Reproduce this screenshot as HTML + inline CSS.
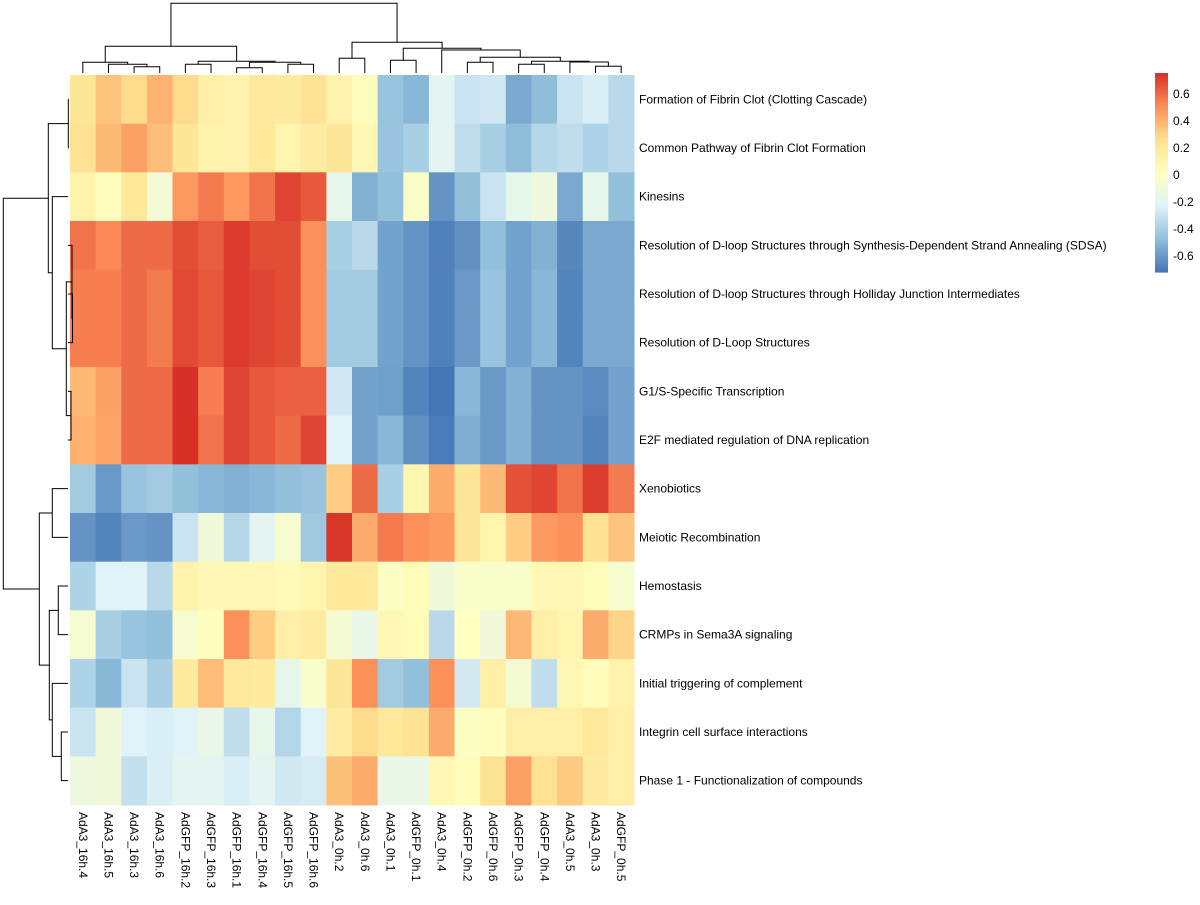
<!DOCTYPE html>
<html><head><meta charset="utf-8"><style>
body{margin:0;background:#fff;font-family:"Liberation Sans",Arial,sans-serif}
svg text{font-family:"Liberation Sans",Arial,sans-serif;font-size:12px;fill:#000}
</style></head><body>
<svg id="chart" width="1200" height="900" xmlns="http://www.w3.org/2000/svg"></svg>
<script>
const rowLabels=["Formation of Fibrin Clot (Clotting Cascade)","Common Pathway of Fibrin Clot Formation","Kinesins","Resolution of D-loop Structures through Synthesis-Dependent Strand Annealing (SDSA)","Resolution of D-loop Structures through Holliday Junction Intermediates","Resolution of D-Loop Structures","G1/S-Specific Transcription","E2F mediated regulation of DNA replication","Xenobiotics","Meiotic Recombination","Hemostasis","CRMPs in Sema3A signaling","Initial triggering of complement","Integrin cell surface interactions","Phase 1 - Functionalization of compounds"];
const colLabels=["AdA3_16h.4","AdA3_16h.5","AdA3_16h.3","AdA3_16h.6","AdGFP_16h.2","AdGFP_16h.3","AdGFP_16h.1","AdGFP_16h.4","AdGFP_16h.5","AdGFP_16h.6","AdA3_0h.2","AdA3_0h.6","AdA3_0h.1","AdGFP_0h.1","AdA3_0h.4","AdGFP_0h.2","AdGFP_0h.6","AdGFP_0h.3","AdGFP_0h.4","AdA3_0h.5","AdA3_0h.3","AdGFP_0h.5"];
const r0=[0.22,0.35,0.28,0.4,0.28,0.15,0.12,0.2,0.18,0.25,0.12,0.03,-0.45,-0.5,-0.2,-0.3,-0.28,-0.55,-0.48,-0.3,-0.25,-0.35];
const r1=[0.25,0.38,0.45,0.37,0.22,0.12,0.12,0.2,0.1,0.17,0.22,0.07,-0.45,-0.4,-0.2,-0.33,-0.4,-0.48,-0.36,-0.33,-0.38,-0.35];
const r2=[0.12,0.03,0.2,-0.08,0.48,0.56,0.48,0.58,0.7,0.65,-0.17,-0.52,-0.47,-0.02,-0.62,-0.47,-0.3,-0.17,-0.12,-0.55,-0.17,-0.47];
const r3=[0.58,0.52,0.6,0.6,0.68,0.64,0.73,0.68,0.68,0.5,-0.4,-0.35,-0.57,-0.62,-0.68,-0.63,-0.47,-0.57,-0.52,-0.66,-0.55,-0.55];
const r4=[0.55,0.55,0.6,0.56,0.69,0.65,0.73,0.7,0.68,0.5,-0.42,-0.42,-0.57,-0.62,-0.68,-0.6,-0.45,-0.57,-0.5,-0.67,-0.55,-0.55];
const r5=[0.55,0.55,0.6,0.56,0.69,0.65,0.73,0.7,0.68,0.5,-0.42,-0.42,-0.57,-0.62,-0.68,-0.6,-0.45,-0.57,-0.5,-0.67,-0.55,-0.55];
const r6=[0.38,0.45,0.6,0.6,0.76,0.55,0.7,0.65,0.63,0.63,-0.28,-0.57,-0.58,-0.67,-0.72,-0.5,-0.6,-0.52,-0.62,-0.62,-0.65,-0.57];
const r7=[0.4,0.44,0.6,0.6,0.76,0.58,0.7,0.65,0.6,0.7,-0.22,-0.57,-0.5,-0.63,-0.7,-0.53,-0.6,-0.52,-0.62,-0.62,-0.67,-0.57];
const r8=[-0.42,-0.6,-0.45,-0.42,-0.47,-0.5,-0.52,-0.5,-0.47,-0.45,0.32,0.6,-0.4,0.1,0.42,0.22,0.38,0.67,0.7,0.58,0.72,0.56];
const r9=[-0.62,-0.67,-0.6,-0.62,-0.3,-0.1,-0.36,-0.2,-0.05,-0.43,0.74,0.42,0.56,0.5,0.47,0.22,0.1,0.32,0.47,0.5,0.25,0.35];
const r10=[-0.38,-0.23,-0.23,-0.35,0.12,0.07,0.07,0.08,0.06,0.1,0.2,0.2,0,0.05,-0.1,-0.03,-0.03,-0.03,0.07,0.08,0.05,-0.05];
const r11=[-0.05,-0.4,-0.45,-0.47,-0.05,0.03,0.5,0.32,0.15,0.17,-0.07,-0.15,0.08,0.05,-0.35,0.02,-0.1,0.38,0.15,0.1,0.42,0.3];
const r12=[-0.38,-0.5,-0.3,-0.4,0.18,0.37,0.2,0.18,-0.17,-0.03,0.22,0.5,-0.42,-0.47,0.5,-0.27,0.15,-0.07,-0.33,0.08,0.04,0.12];
const r13=[-0.3,-0.1,-0.22,-0.25,-0.22,-0.15,-0.33,-0.17,-0.37,-0.22,0.17,0.28,0.2,0.25,0.42,0.0,0.03,0.15,0.15,0.15,0.2,0.15];
const r14=[-0.12,-0.1,-0.32,-0.25,-0.2,-0.2,-0.25,-0.2,-0.28,-0.26,0.36,0.42,-0.15,-0.15,0.07,0.04,0.25,0.45,0.25,0.33,0.18,0.15];
const values=[r0,r1,r2,r3,r4,r5,r6,r7,r8,r9,r10,r11,r12,r13,r14];
const legendTicks=[0.6,0.4,0.2,0,-0.2,-0.4,-0.6];
const vMin=-0.72, vMax=0.756;

const svg=document.getElementById('chart');
const NS='http://www.w3.org/2000/svg';
const X0=70,X1=634,Y0=75,Y1=805;
const cw=(X1-X0)/colLabels.length, rh=(Y1-Y0)/rowLabels.length;
const pal=[[69,117,180],[145,191,219],[224,243,248],[255,255,191],[254,224,144],[252,141,89],[215,48,39]];
function color(v){let t=(v-vMin)/(vMax-vMin);t=Math.max(0,Math.min(1,t))*(pal.length-1);const i=Math.min(Math.floor(t),pal.length-2),f=t-i;const c=pal[i].map((a,k)=>Math.round(a+(pal[i+1][k]-a)*f));return `rgb(${c})`;}
function el(tag,attrs,parent){const e=document.createElementNS(NS,tag);for(const k in attrs)e.setAttribute(k,attrs[k]);(parent||svg).appendChild(e);return e;}
const xC=i=>X0+cw*(i+0.5), yC=j=>Y0+rh*(j+0.5);

const cells=el('g',{});


values.forEach((row,j)=>row.forEach((v,i)=>{
  const r=el('rect',{x:X0+cw*i,y:Y0+rh*j,width:cw+0.5,height:rh+0.5,fill:color(v)},cells);
  
  
}));
rowLabels.forEach((t,j)=>{
  const e=el('text',{x:639,y:yC(j)+4});e.textContent=t;
  
  
});
colLabels.forEach((t,i)=>{
  const e=el('text',{x:0,y:0,transform:`translate(${xC(i)-4},812) rotate(90)`});e.textContent=t;
  
  
});
const colTree=['n',['n',['n',0,['n',1,['n',2,3,66.7],64.3],62.3],['n',['n',4,5,64.3],['n',['n',6,7,67.7],['n',8,9,64.3],62.3],61.3],46.3],
 ['n',['n',10,11,58.3],['n',['n',12,13,60.3],['n',14,['n',['n',15,16,62.3],['n',['n',17,18,64.3],['n',19,['n',20,21,66.3],62],61.3],57.3],50],48.3],42.3],3.3];
const rowTree=['n',['n',['n',0,1,68.3],['n',2,['n',['n',3,['n',4,5,72.5],72],['n',6,7,71],66.3],52.3],48.3],
 ['n',['n',8,9,52.3],['n',['n',10,11,58.3],['n',12,['n',13,14,61.3],52.3],49.3],39.3],3.3];
const dg=el('g',{stroke:'#000','stroke-width':1,fill:'none'});


function drawCol(n){if(typeof n==='number')return[xC(n),73];const a=drawCol(n[1]),b=drawCol(n[2]),h=n[3];
 el('path',{d:`M${a[0]},${a[1]}V${h}H${b[0]}V${b[1]}`},dg);return[(a[0]+b[0])/2,h];}
function drawRow(n){if(typeof n==='number')return[68,yC(n)];const a=drawRow(n[1]),b=drawRow(n[2]),h=n[3];
 el('path',{d:`M${a[0]},${a[1]}H${h}V${b[1]}H${b[0]}`},dg);return[h,(a[1]+b[1])/2];}
drawCol(colTree);drawRow(rowTree);
const lg=el('g',{});


const LY0=73,LY1=272;
for(let k=0;k<100;k++){const v=vMax-(vMax-vMin)*(k+0.5)/100;
 el('rect',{x:1155,y:LY0+(LY1-LY0)*k/100,width:13,height:(LY1-LY0)/100+0.6,fill:color(v)},lg);}
const ly=v=>LY0+(vMax-v)/(vMax-vMin)*(LY1-LY0);
legendTicks.forEach(v=>{const e=el('text',{x:1173,y:ly(v)+4},lg);e.textContent=String(v);
 
 });
</script>
</body></html>
